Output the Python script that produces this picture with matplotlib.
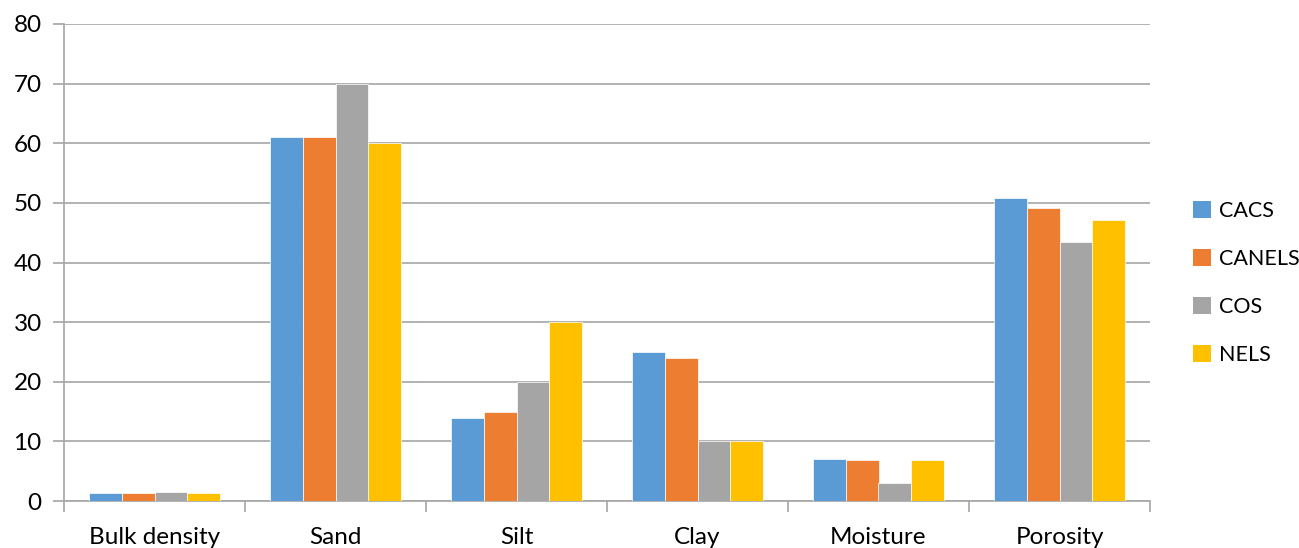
import matplotlib
matplotlib.use("Agg")
import matplotlib.pyplot as plt
import numpy as np
from matplotlib.patches import Patch

categories = ["Bulk density", "Sand", "Silt", "Clay", "Moisture", "Porosity"]
series_names = ["CACS", "CANELS", "COS", "NELS"]
cacs = [1.3, 61, 14, 25, 7.0, 50.9]
canels = [1.3, 61, 15, 24, 6.8, 49.1]
cos = [1.5, 70, 20, 10, 3.0, 43.4]
nels = [1.35, 60, 30, 10, 6.8, 47.2]
colors = ["#5B9BD5", "#ED7D31", "#A5A5A5", "#FFC000"]
y_ticks = [0, 10, 20, 30, 40, 50, 60, 70, 80]

plt.rcParams["font.family"] = ["Lato", "DejaVu Sans"]

fig = plt.figure(figsize=(12.99, 5.48), dpi=100)
ax = fig.add_axes([64 / 1299, 1 - 501 / 548, (1150 - 64) / 1299, (501 - 24) / 548])

x = np.arange(len(categories))
bw = 0.181
for i, (vals, name, c) in enumerate(zip([cacs, canels, cos, nels], series_names, colors)):
    ax.bar(x + (i - 1.5) * bw, vals, width=bw, color=c, edgecolor="white",
           linewidth=0.5, label=name, zorder=3)

grid_c = "#A6A6A6"
ax.set_ylim(0, 80)
ax.set_xlim(-0.5, len(categories) - 0.5)
ax.set_yticks(y_ticks)
ax.yaxis.grid(True, color=grid_c, linewidth=1.2, zorder=0)
ax.set_axisbelow(True)
for s in ["top", "right"]:
    ax.spines[s].set_visible(False)
ax.spines["left"].set_color(grid_c)
ax.spines["bottom"].set_color(grid_c)
ax.spines["left"].set_linewidth(1.2)
ax.spines["bottom"].set_linewidth(1.2)

ax.set_xticks(x)
ax.set_xticklabels(categories)
ax.set_xticks(np.arange(-0.5, len(categories)), minor=True)
ax.tick_params(axis="x", which="major", length=0, labelsize=17.5, pad=19, colors="black")
ax.tick_params(axis="x", which="minor", length=8, width=1.2, color=grid_c)
ax.tick_params(axis="y", length=8, width=1.2, color=grid_c, labelsize=17.5, pad=8, labelcolor="black")

handles = [Patch(facecolor=c, edgecolor="none") for c in colors]
fig.legend(handles, series_names, loc="center left", bbox_to_anchor=(1193 / 1299, 1 - 283 / 548),
           frameon=False, fontsize=15.5, handlelength=0.85, handleheight=0.85,
           handletextpad=0.35, labelspacing=1.3, borderpad=0, borderaxespad=0)

fig.savefig("out.png", dpi=100)
